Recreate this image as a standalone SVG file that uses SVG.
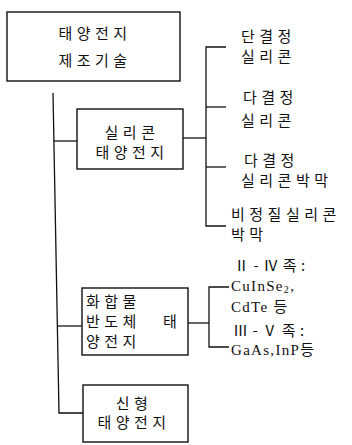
<svg xmlns="http://www.w3.org/2000/svg" width="352" height="445" viewBox="0 0 352 445">
<style>
.box{fill:#fff;stroke:#111;stroke-width:1.4}
.ln{fill:none;stroke:#111;stroke-width:1.3}
.k{font-family:"Noto Sans CJK KR","Noto Sans",sans-serif;font-size:15px;fill:#111;letter-spacing:4.5px}
.l{font-family:"Liberation Serif","Noto Sans CJK KR",serif;font-size:15px;fill:#111;letter-spacing:1.3px}
.c{text-anchor:middle}
</style>
<rect width="352" height="445" fill="#fff"/>
<g id="connectors">
<path class="ln" d="M53,93 L59,413 L83,413"/>
<path class="ln" d="M54,141 L77,141"/>
<path class="ln" d="M58,326 L82,326"/>
<path class="ln" d="M183,138 L206,138"/>
<path class="ln" d="M226,47 L206,47 L206,226 L226,226"/>
<path class="ln" d="M206,107 L226,107"/>
<path class="ln" d="M206,167 L226,167"/>
<path class="ln" d="M188,323 L209,323"/>
<path class="ln" d="M229,287 L209,287 L209,347 L229,347"/>
</g>
<g id="root">
<rect class="box" x="7" y="12" width="173" height="69"/>
<text class="k c" x="95" y="39">태양전지</text>
<text class="k c" x="95" y="66">제조기술</text>
</g>
<g id="silicon">
<rect class="box" x="77" y="109" width="106" height="60"/>
<text class="k c" x="132" y="138">실리콘</text>
<text class="k c" x="132" y="158">태양전지</text>
</g>
<g id="mono"><text class="k" x="241" y="42">단결정</text><text class="k" x="241" y="62">실리콘</text></g>
<g id="poly"><text class="k" x="243" y="103">다결정</text><text class="k" x="241" y="126">실리콘</text></g>
<g id="polyfilm"><text class="k" x="244" y="166">다결정</text><text class="k" x="241" y="186">실리콘박막</text></g>
<g id="amorph"><text class="k" x="231" y="220">비정질실리콘</text><text class="k" x="231" y="240">박막</text></g>
<g id="compound">
<rect class="box" x="82" y="288" width="106" height="67"/>
<text class="k" x="86" y="307">화합물</text>
<text class="k" x="86" y="327">반도체</text>
<text class="k" x="163" y="327">태</text>
<text class="k" x="86" y="347">양전지</text>
</g>
<g id="g24">
<text class="k" x="234" y="271">Ⅱ-Ⅳ족:</text>
<text class="l" x="231" y="291">CuInSe<tspan font-size="10" dy="2">2</tspan><tspan dy="-2">,</tspan></text>
<text class="l" x="231" y="312">CdTe <tspan class="k">등</tspan></text>
</g>
<g id="g35">
<text class="k" x="233" y="336">Ⅲ-Ⅴ족:</text>
<text class="l" x="231" y="355" letter-spacing="2.6">GaAs,InP<tspan class="k">등</tspan></text>
</g>
<g id="new">
<rect class="box" x="83" y="385" width="105" height="57"/>
<text class="k c" x="134" y="409">신형</text>
<text class="k c" x="134" y="428">태양전지</text>
</g>
</svg>
